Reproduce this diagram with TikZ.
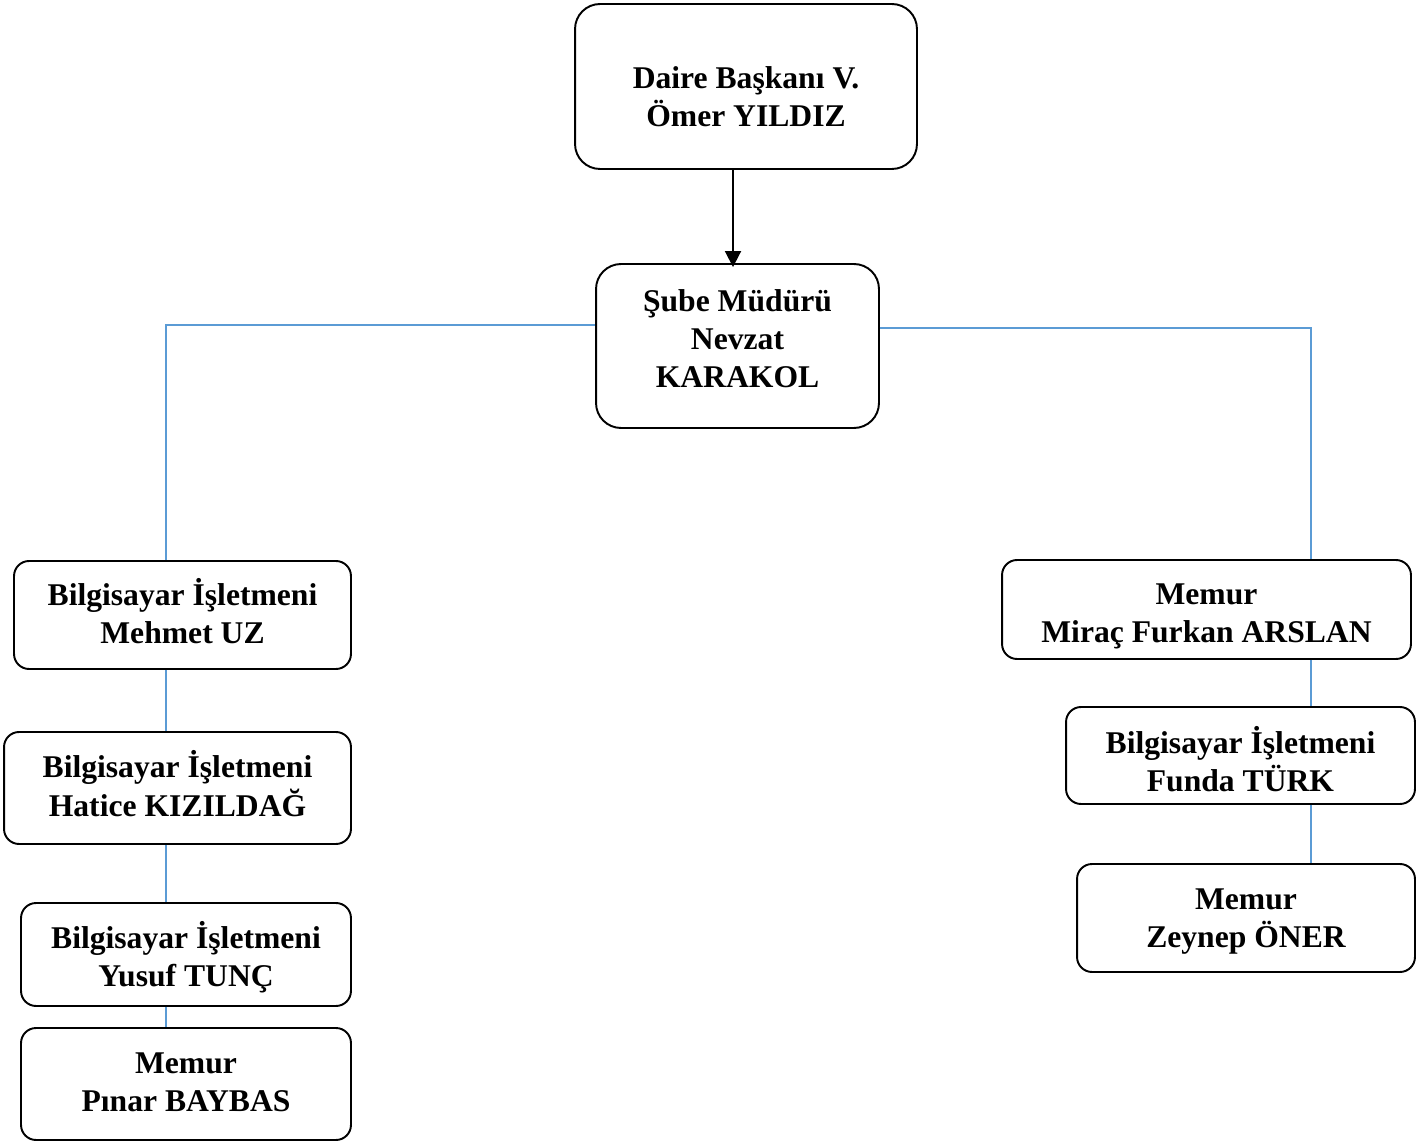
\documentclass[tikz,border=0pt]{standalone}
\usepackage{fontspec}
\setmainfont{Liberation Serif}
\usetikzlibrary{arrows.meta}
\definecolor{linkblue}{HTML}{5B9BD5}
\newcommand{\staff}[2]{\raisebox{#1}[\height][\depth]{\begin{tabular}{@{}c@{}}#2\end{tabular}}}
\tikzset{
    unit/.style={draw,line width=1.1pt,rounded corners=0.3cm,align=center,inner sep=0pt,
        font=\fontsize{18}{21.6}\selectfont\bfseries},
    head/.style={unit,rounded corners=0.5cm},
    link/.style={draw=linkblue,line width=0.6pt},
    arrow/.style={draw,line width=1.1pt,-{Triangle[length=0.32cm,width=0.32cm]}}
}
\begin{document}
\begin{tikzpicture}[x=0.02cm,y=-0.02cm]
                    \useasboundingbox (0,0) rectangle (1427,1142);

                    \node[head,minimum width=6.84cm,minimum height=3.3cm] (daire) at (746,86.5) {\staff{-0.26cm}{Daire Başkanı V.\\Ömer YILDIZ}};
                    \node[head,minimum width=5.66cm,minimum height=3.28cm] (sube) at (737.5,346) {\staff{0.08cm}{Şube Müdürü\\Nevzat\\KARAKOL}};

                    \node[unit,minimum width=6.74cm,minimum height=2.16cm] (mehmet) at (182.5,615) {\staff{-0.04cm}{Bilgisayar İşletmeni\\Mehmet UZ}};
                    \node[unit,minimum width=6.94cm,minimum height=2.24cm] (hatice) at (177.5,788) {\staff{-0.02cm}{Bilgisayar İşletmeni\\Hatice KIZILDAĞ}};
                    \node[unit,minimum width=6.6cm,minimum height=2.06cm] (yusuf) at (186,954.5) {\staff{-0.1cm}{Bilgisayar İşletmeni\\Yusuf TUNÇ}};
                    \node[unit,minimum width=6.6cm,minimum height=2.24cm] (pinar) at (186,1084) {\staff{-0.02cm}{Memur\\Pınar BAYBAS}};

                    \node[unit,minimum width=8.18cm,minimum height=1.98cm] (mirac) at (1206.5,609.5) {\staff{-0.12cm}{Memur\\Miraç Furkan ARSLAN}};
                    \node[unit,minimum width=6.98cm,minimum height=1.94cm] (funda) at (1240.5,755.5) {\staff{-0.18cm}{Bilgisayar İşletmeni\\Funda TÜRK}};
                    \node[unit,minimum width=6.76cm,minimum height=2.16cm] (zeynep) at (1246,918) {\staff{-0.06cm}{Memur\\Zeynep ÖNER}};

                    \coordinate (lspine) at (166,325);
                    \coordinate (rspine) at (1311,328);

                    \draw[arrow] ([xshift=-0.09cm]sube.north |- daire.south) -- ([xshift=-0.09cm,yshift=-0.08cm]sube.north);

                    \draw[link] (sube.west |- lspine) -- (lspine) -- (lspine |- mehmet.north);
                    \draw[link] (mehmet.south -| lspine) -- (hatice.north -| lspine);
                    \draw[link] (hatice.south -| lspine) -- (yusuf.north -| lspine);
                    \draw[link] (yusuf.south -| lspine) -- (pinar.north -| lspine);

                    \draw[link] (sube.east |- rspine) -- (rspine) -- (rspine |- mirac.north);
                    \draw[link] (mirac.south -| rspine) -- (funda.north -| rspine);
                    \draw[link] (funda.south -| rspine) -- (zeynep.north -| rspine);
                \end{tikzpicture}
\end{document}
